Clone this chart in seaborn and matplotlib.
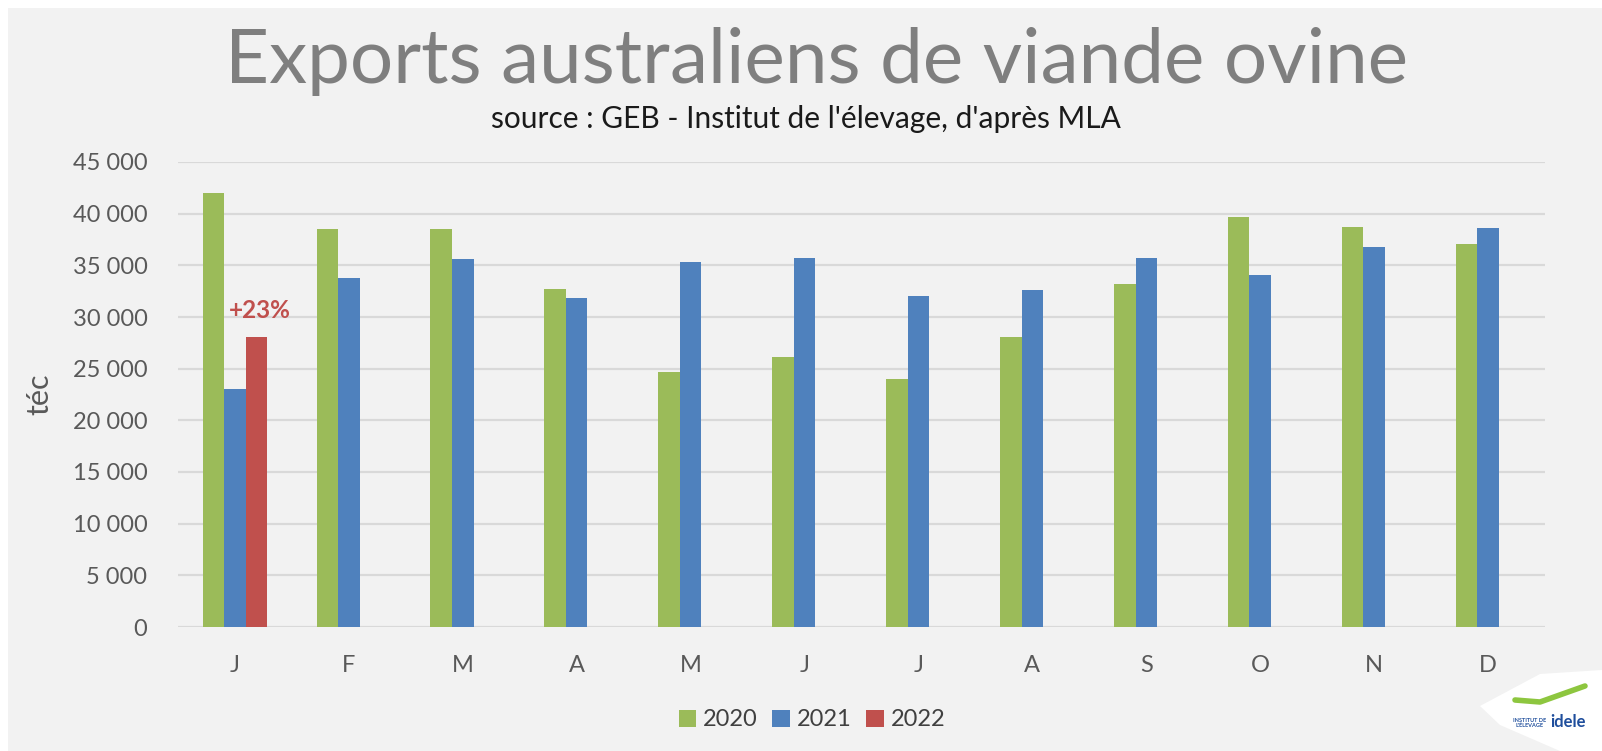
"""Exports australiens de viande ovine - barres mensuelles 2020/2021/2022."""
import pandas as pd
import matplotlib
matplotlib.use("Agg")
import matplotlib.pyplot as plt
from matplotlib.patches import Rectangle, Polygon
from matplotlib.ticker import FuncFormatter
import seaborn as sns

# données (tonnes équivalent carcasse)
mois = ["janv", "fevr", "mars", "avr", "mai", "juin",
        "juil", "aout", "sept", "oct", "nov", "dec"]
initiales = ["J", "F", "M", "A", "M", "J", "J", "A", "S", "O", "N", "D"]
annees = ["2020", "2021", "2022"]
exports_2020 = [42000, 38500, 38500, 32700, 24700, 26100,
                24000, 28050, 33200, 39700, 38700, 37100]
exports_2021 = [23000, 33800, 35600, 31800, 35300, 35700,
                32000, 32600, 35700, 34100, 36800, 38600]
exports_2022 = [28100]  # seulement janvier
couleurs = ["#9BBB59", "#4F81BD", "#C0504D"]
etiquette_2022 = "+23%"

rows = []
for serie, annee in zip([exports_2020, exports_2021, exports_2022], annees):
    for m, v in zip(mois, serie):
        rows.append({"mois": m, "annee": annee, "tec": v})
df = pd.DataFrame(rows)

sns.set_style("white")
plt.rcParams["font.family"] = ["Lato", "DejaVu Sans"]

W, H = 1602, 751
fig = plt.figure(figsize=(W / 100, H / 100), dpi=100, facecolor="white")

# fond gris du cadre
fig.patches.append(Rectangle((8 / W, 0), 1 - 8 / W, 1 - 8 / H,
                             transform=fig.transFigure, facecolor="#F2F2F2",
                             edgecolor="none", zorder=-10))

ax = fig.add_axes([178 / W, 1 - 627 / H, (1545 - 178) / W, (627 - 162) / H])
ax.set_facecolor("none")
ax.set_zorder(2)

sns.barplot(data=df, x="mois", y="tec", hue="annee", order=mois,
            hue_order=annees, palette=couleurs, width=0.567,
            saturation=1, errorbar=None, ax=ax, legend=True,
            linewidth=0, edgecolor="none", zorder=3)

ax.set_ylim(0, 45000)
ax.set_yticks(range(0, 45001, 5000))
ax.yaxis.set_major_formatter(FuncFormatter(lambda v, p: f"{int(v):,}".replace(",", " ")))
ax.set_xlim(-0.5, 11.5)
ax.set_xticks(range(12))
ax.set_xticklabels(initiales)
ax.grid(axis="y", color="#D9D9D9", linewidth=1.6, zorder=0)
ax.set_axisbelow(True)
for s in ax.spines.values():
    s.set_visible(False)
ax.tick_params(axis="both", length=0, labelsize=17, labelcolor="#595959")
ax.tick_params(axis="y", pad=22)
ax.tick_params(axis="x", pad=20)
ax.set_xlabel("")
ax.set_ylabel("téc", fontsize=22, color="#595959", labelpad=14)

# étiquette de la barre 2022
ax.annotate(etiquette_2022, xy=(0.189, exports_2022[0]), xytext=(3, 26),
            textcoords="offset pixels", ha="center", va="center",
            fontsize=17.5, fontweight="bold", color="#C0504D")

# légende en bas
handles, labels = ax.get_legend_handles_labels()
ax.get_legend().remove()
fig.legend(handles, labels, loc="center", bbox_to_anchor=(812 / W, 1 - 720 / H),
           ncol=3, frameon=False, fontsize=17, handlelength=0.75,
           handleheight=0.75, handletextpad=0.3, columnspacing=0.6,
           labelcolor="#404040")

fig.text(817 / W, 1 - 62 / H, "Exports australiens de viande ovine",
         ha="center", va="center", fontsize=55, color="#7F7F7F")
fig.text(806 / W, 1 - 119 / H, "source : GEB - Institut de l'élevage, d'après MLA",
         ha="center", va="center", fontsize=21.5, color="#1A1A1A")

# logo idele simplifié en bas à droite
fig.patches.append(Polygon([(1480 / W, 1 - 706 / H), (1540 / W, 1 - 674 / H),
                            (1602 / W, 1 - 670 / H), (1602 / W, 0),
                            (1560 / W, 0), (1500 / W, 1 - 725 / H)],
                           closed=True, transform=fig.transFigure,
                           facecolor="white", edgecolor="none", zorder=1))
fig.lines.append(plt.Line2D([1515 / W, 1540 / W, 1585 / W],
                            [1 - 700 / H, 1 - 702 / H, 1 - 686 / H],
                            transform=fig.transFigure, color="#8DC63F",
                            linewidth=4, solid_capstyle="round", zorder=2))
fig.text(1530 / W, 1 - 723 / H, "INSTITUT DE\nL'ÉLEVAGE", fontsize=4,
         fontweight="bold", color="#1F4E9C", ha="center", va="center",
         linespacing=1.0, zorder=3)
fig.text(1568 / W, 1 - 722 / H, "idele", fontsize=12, fontweight="bold",
         color="#1F4E9C", ha="center", va="center", zorder=3)

fig.savefig("out.png", dpi=100, facecolor="white")
